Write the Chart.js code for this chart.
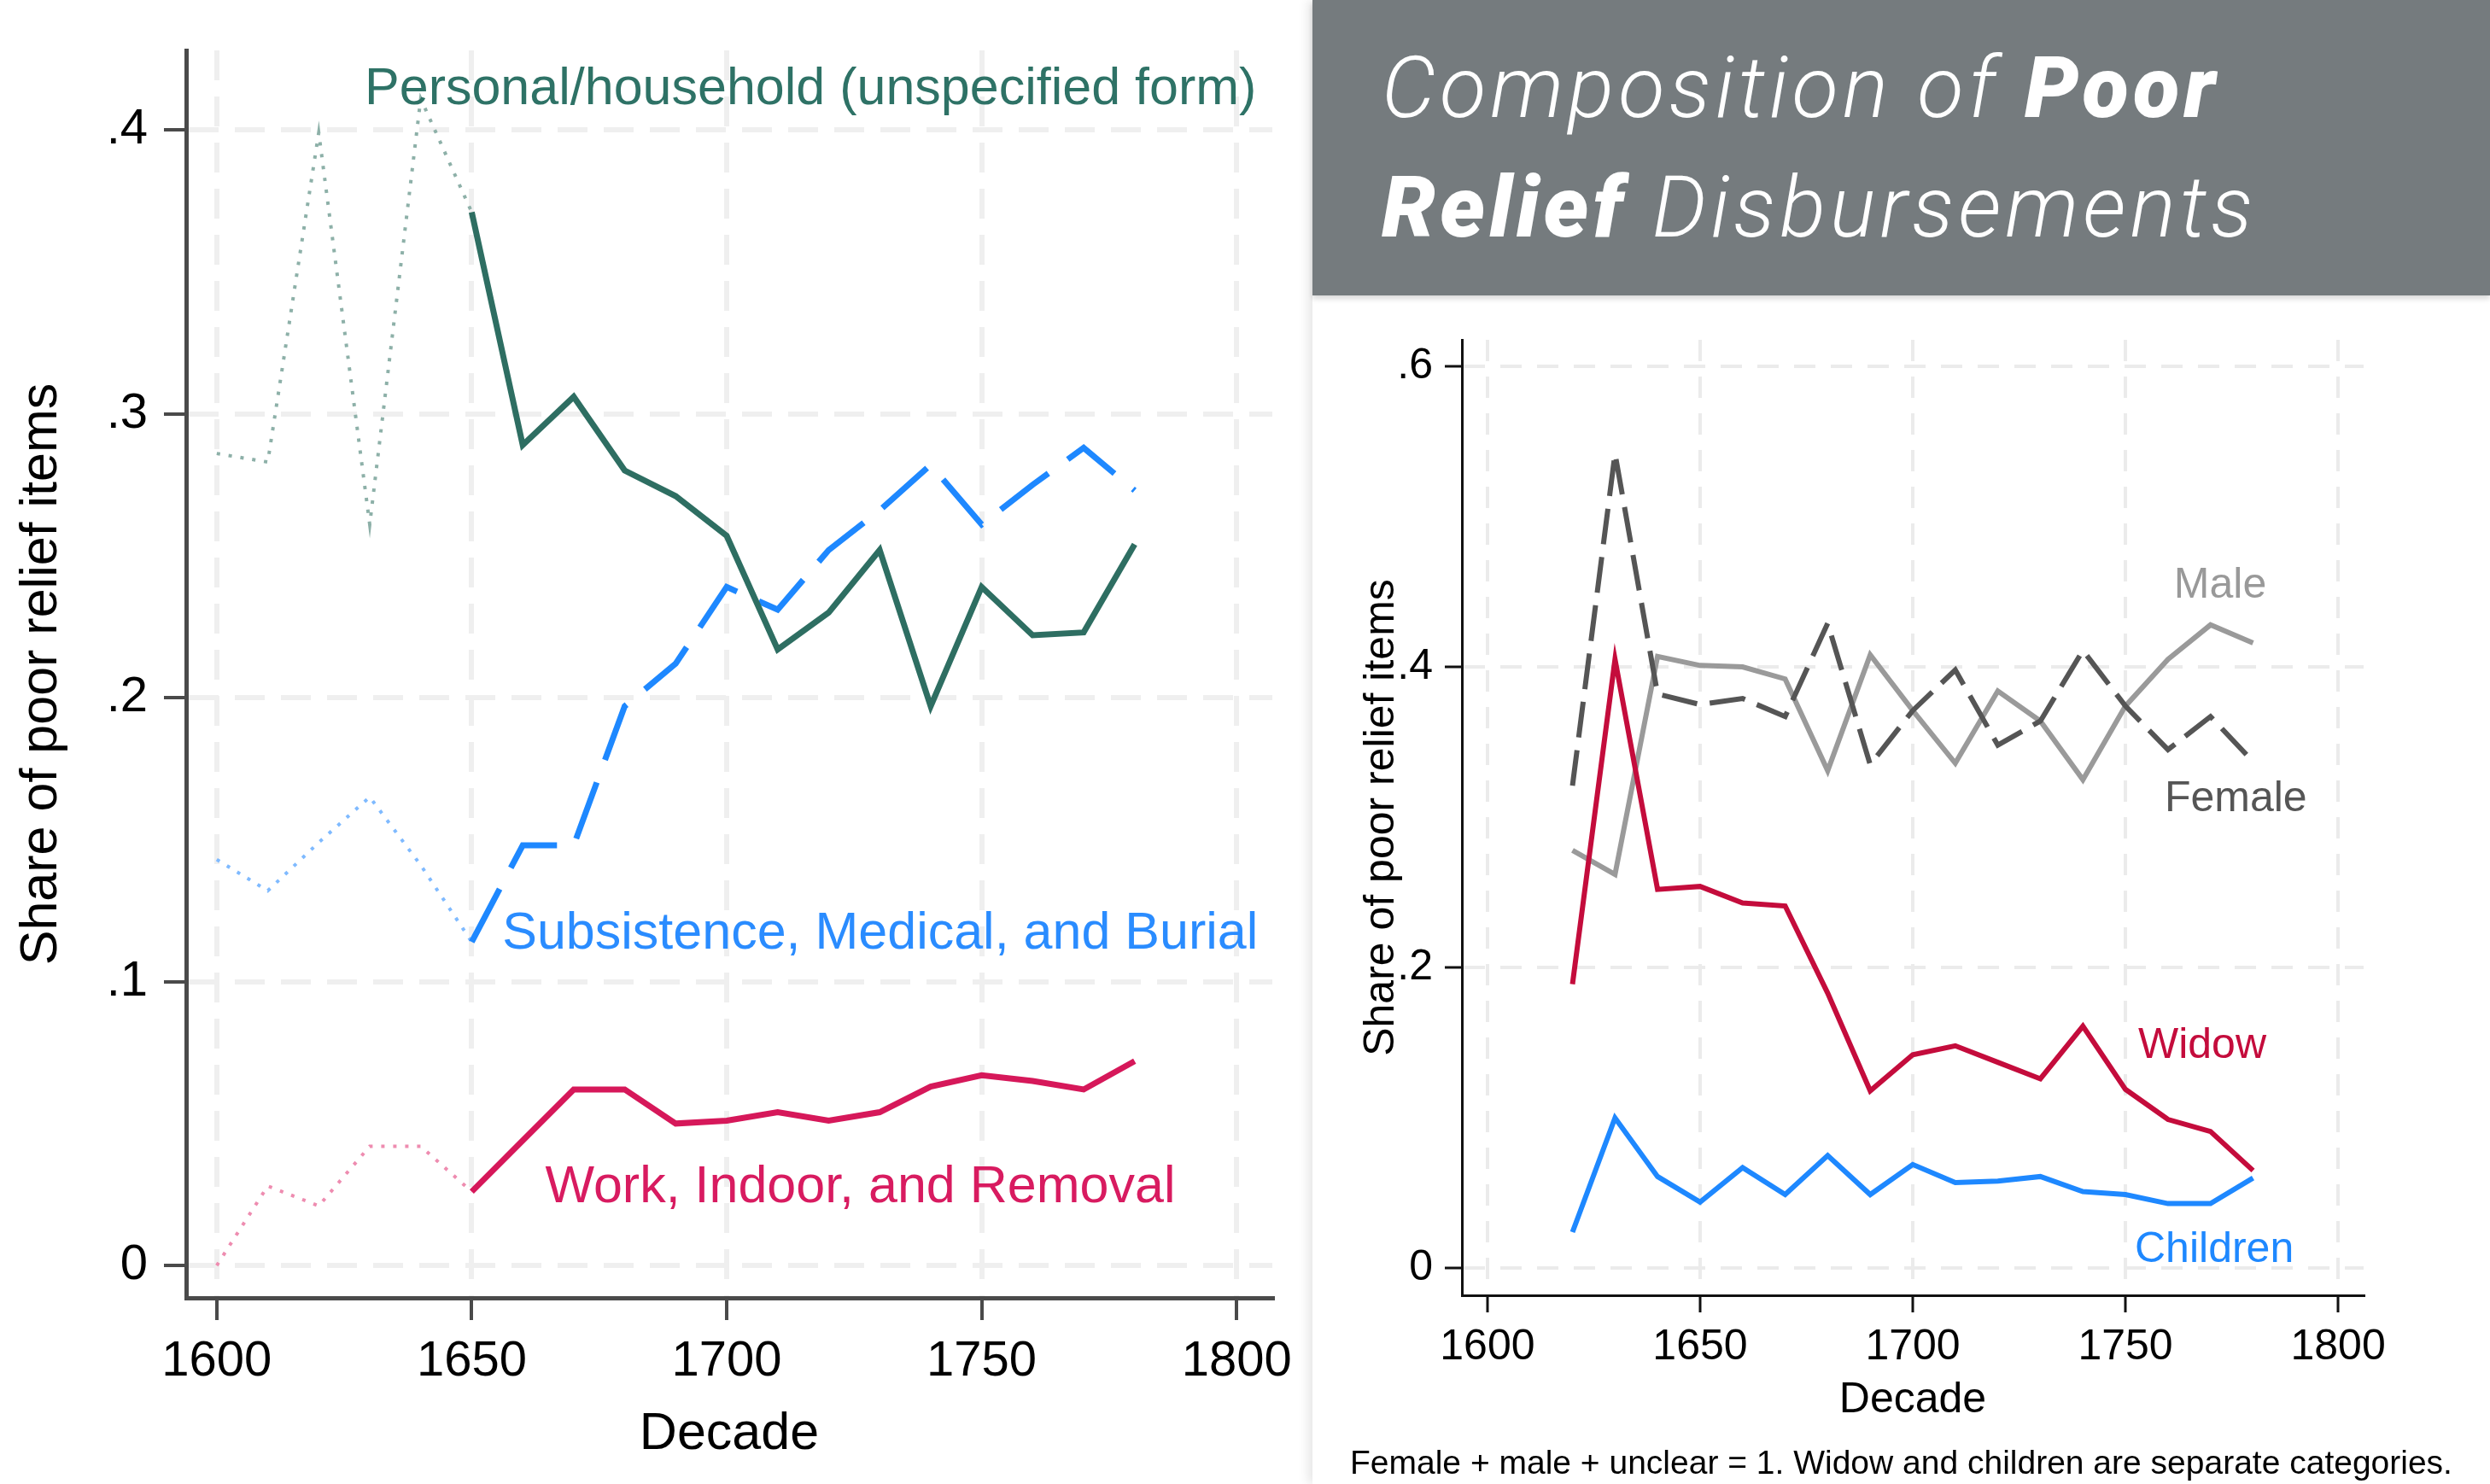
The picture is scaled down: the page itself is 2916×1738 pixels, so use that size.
<!DOCTYPE html>
<html>
<head>
<meta charset="utf-8">
<title>Composition of Poor Relief Disbursements</title>
<script src="https://cdn.jsdelivr.net/npm/chart.js@4.4.1/dist/chart.umd.min.js"></script>
<style>
  html, body { margin: 0; padding: 0; background: #fff; }
  body { width: 2916px; height: 1738px; position: relative; overflow: hidden; font-family: "Liberation Sans", Arial, sans-serif; }
  #leftChart { position: absolute; left: 0; top: 0; }
  #card { position: absolute; left: 1537px; top: 0; width: 1379px; height: 1738px; background: #fff; box-shadow: -5px 0 12px rgba(0,0,0,0.10); }
  #titleBox { position: absolute; left: 0; top: 0; width: 1379px; height: 346px; background: #757b7e; box-shadow: 0 4px 6px rgba(0,0,0,0.15); }
  #title { position: absolute; left: 81px; top: 33px; color: #fff; font-family: Roboto, sans-serif; font-style: italic; font-weight: 300; font-size: 100px; line-height: 140px; letter-spacing: 5px; white-space: nowrap; }
  #title b { font-weight: 900; }
  #rightChart { position: absolute; left: 3px; top: 350px; }
  #note { position: absolute; left: 0; top: 1691px; width: 1379px; text-align: center; font-size: 39px; line-height: 44px; color: #000; }
</style>
</head>
<body>
<canvas id="leftChart" width="1537" height="1738"></canvas>
<div id="card">
  <div id="titleBox">
    <div id="title">Composition of <b>Poor</b><br><b>Relief</b> Disbursements</div>
  </div>
  <canvas id="rightChart" width="1376" height="1388"></canvas>
  <div id="note">Female + male + unclear = 1. Widow and children are separate categories.</div>
</div>

<script>
// ---- left panel: type of relief ----
const leftDecades = [1600, 1610, 1620, 1630, 1640, 1650, 1660, 1670, 1680, 1690,
                     1700, 1710, 1720, 1730, 1740, 1750, 1760, 1770, 1780];
const personalShare = [0.286, 0.283, 0.399, 0.261, 0.411, 0.371, 0.289, 0.306, 0.280, 0.271,
                       0.257, 0.217, 0.230, 0.252, 0.197, 0.239, 0.222, 0.223, 0.254];
const subsistenceShare = [0.143, 0.132, 0.149, 0.165, 0.141, 0.114, 0.148, 0.148, 0.197, 0.212,
                          0.239, 0.231, 0.252, 0.266, 0.282, 0.261, 0.275, 0.288, 0.273];
const workShare = [0.000, 0.028, 0.021, 0.042, 0.042, 0.026, 0.044, 0.062, 0.062, 0.050,
                   0.051, 0.054, 0.051, 0.054, 0.063, 0.067, 0.065, 0.062, 0.072];
const sparseUntil = 1650;   // before this decade the series are drawn dotted
const leftXTicks = [1600, 1650, 1700, 1750, 1800];
const leftYTicks = [0, 0.1, 0.2, 0.3, 0.4];
const leftYLabels = ['0', '.1', '.2', '.3', '.4'];

// ---- right panel: recipients ----
const rightDecades = [1620, 1630, 1640, 1650, 1660, 1670, 1680, 1690, 1700,
                      1710, 1720, 1730, 1740, 1750, 1760, 1770, 1780];
const femaleShare = [0.321, 0.542, 0.382, 0.375, 0.379, 0.367, 0.429, 0.335, 0.371,
                     0.398, 0.348, 0.364, 0.411, 0.374, 0.345, 0.367, 0.337];
const maleShare = [0.278, 0.262, 0.407, 0.401, 0.400, 0.392, 0.331, 0.408, 0.371,
                   0.336, 0.384, 0.364, 0.325, 0.374, 0.405, 0.428, 0.416];
const widowShare = [0.189, 0.405, 0.252, 0.254, 0.243, 0.241, 0.183, 0.118, 0.142,
                    0.148, 0.137, 0.126, 0.161, 0.119, 0.099, 0.091, 0.065];
const childrenShare = [0.024, 0.100, 0.061, 0.044, 0.067, 0.049, 0.075, 0.049, 0.069,
                       0.057, 0.058, 0.061, 0.051, 0.049, 0.043, 0.043, 0.060];
const rightXTicks = [1600, 1650, 1700, 1750, 1800];
const rightYTicks = [0, 0.2, 0.4, 0.6];
const rightYLabels = ['0', '.2', '.4', '.6'];

const FONT = '"Liberation Sans", Arial, sans-serif';
Chart.defaults.font.family = FONT;
Chart.defaults.color = '#000';

function points(xs, ys, from, to) {
    const out = [];
    xs.forEach((x, i) => { if (x >= from && x <= to) out.push({ x: x, y: ys[i] }); });
    return out;
}

// text labels next to the lines, anchored in data units
const lineLabels = {
    id: 'lineLabels',
    afterDatasetsDraw(chart, args, opts) {
        const { ctx, scales } = chart;
        ctx.save();
        ctx.font = opts.font;
        ctx.textBaseline = 'middle';
        opts.items.forEach(it => {
            ctx.fillStyle = it.color;
            ctx.textAlign = it.align || 'left';
            ctx.fillText(it.text, scales.x.getPixelForValue(it.x), scales.y.getPixelForValue(it.y));
        });
        ctx.restore();
    }
};

function axes(cfg) {
    return {
        x: {
            type: 'linear', min: cfg.xMin, max: cfg.xMax,
            afterBuildTicks: s => { s.ticks = cfg.xTicks.map(v => ({ value: v })); },
            afterFit: s => { s.height = cfg.xHeight; },
            grid: { color: cfg.gridColor, lineWidth: cfg.gridWidth, tickLength: cfg.tickLen,
                    tickColor: cfg.axisColor, tickWidth: cfg.tickWidth, tickBorderDash: [] },
            border: { color: cfg.axisColor, width: cfg.axisWidth, dash: cfg.gridDash },
            ticks: { font: { size: cfg.tickSize, lineHeight: 1.2 }, padding: cfg.xPad, color: '#000',
                     maxRotation: 0, callback: v => String(v) },
            title: { display: true, text: 'Decade', font: { size: cfg.titleSize, lineHeight: 1.2 },
                     padding: { bottom: cfg.xTitlePad, top: 0 }, color: '#000' }
        },
        y: {
            type: 'linear', min: cfg.yMin, max: cfg.yMax,
            afterBuildTicks: s => { s.ticks = cfg.yTicks.map(v => ({ value: v })); },
            afterFit: s => { s.width = cfg.yWidth; },
            grid: { color: cfg.gridColor, lineWidth: cfg.gridWidth, tickLength: cfg.tickLen,
                    tickColor: cfg.axisColor, tickWidth: cfg.tickWidth, tickBorderDash: [] },
            border: { color: cfg.axisColor, width: cfg.axisWidth, dash: cfg.gridDash },
            ticks: { font: { size: cfg.tickSize, lineHeight: 1.2 }, padding: cfg.yPad, color: '#000',
                     callback: v => cfg.yLabels[cfg.yTicks.findIndex(t => Math.abs(t - v) < 1e-9)] },
            title: { display: true, text: 'Share of poor relief items', font: { size: cfg.titleSize, lineHeight: 1.2 },
                     padding: { top: cfg.yTitlePad, bottom: 0 }, color: '#000' }
        }
    };
}

const baseOpts = {
    responsive: false, animation: false, devicePixelRatio: 1,
    elements: { point: { radius: 0 }, line: { tension: 0, borderCapStyle: 'butt', borderJoinStyle: 'miter' } }
};

// left chart
const teal = '#2e6e62', blue = '#1e88ff', crimson = '#d6185a';
const dots = [4, 10];
new Chart(document.getElementById('leftChart'), {
    type: 'line',
    data: {
        datasets: [
            { data: points(leftDecades, personalShare, sparseUntil, 9999), borderColor: teal, borderWidth: 7 },
            { data: points(leftDecades, subsistenceShare, sparseUntil, 9999), borderColor: blue, borderWidth: 7, borderDash: [70, 28] },
            { data: points(leftDecades, workShare, sparseUntil, 9999), borderColor: crimson, borderWidth: 7 },
            { data: points(leftDecades, personalShare, 0, sparseUntil), borderColor: '#8db0a8', borderWidth: 4, borderDash: dots },
            { data: points(leftDecades, subsistenceShare, 0, sparseUntil), borderColor: '#7fbaff', borderWidth: 4, borderDash: dots },
            { data: points(leftDecades, workShare, 0, sparseUntil), borderColor: '#ee8cb0', borderWidth: 4, borderDash: dots }
        ]
    },
    options: Object.assign({}, baseOpts, {
        layout: { padding: { top: 59, right: 47, bottom: 0, left: 0 } },
        scales: axes({
            xMin: 1594, xMax: 1807, xTicks: leftXTicks, xHeight: 218, xPad: 14, xTitlePad: 21,
            yMin: -0.0114, yMax: 0.428, yTicks: leftYTicks, yLabels: leftYLabels, yWidth: 218, yPad: 19, yTitlePad: 13,
            gridColor: '#efefef', gridWidth: 6, gridDash: [35, 19], tickLen: 26, tickWidth: 4,
            axisColor: '#4a4a4a', axisWidth: 5, tickSize: 58, titleSize: 61
        }),
        plugins: {
            legend: { display: false }, tooltip: { enabled: false },
            lineLabels: {
                font: '61px ' + FONT,
                items: [
                    { text: 'Personal/household (unspecified form)', x: 1629, y: 0.414, color: '#2e7266' },
                    { text: 'Subsistence, Medical, and Burial', x: 1656, y: 0.1167, color: '#2a8cff' },
                    { text: 'Work, Indoor, and Removal', x: 1664.4, y: 0.0274, color: '#d81b60' }
                ]
            }
        }
    }),
    plugins: [lineLabels]
});

// right chart
const widowRed = '#c40c3c';
new Chart(document.getElementById('rightChart'), {
    type: 'line',
    data: {
        datasets: [
            { data: points(rightDecades, childrenShare, 0, 9999), borderColor: blue, borderWidth: 6 },
            { data: points(rightDecades, widowShare, 0, 9999), borderColor: widowRed, borderWidth: 6 },
            { data: points(rightDecades, femaleShare, 0, 9999), borderColor: '#555555', borderWidth: 6, borderDash: [42, 15] },
            { data: points(rightDecades, maleShare, 0, 9999), borderColor: '#9a9a9a', borderWidth: 6 }
        ]
    },
    options: Object.assign({}, baseOpts, {
        layout: { padding: { top: 48, right: 148, bottom: 0, left: 0 } },
        scales: axes({
            xMin: 1594, xMax: 1806, xTicks: rightXTicks, xHeight: 221, xPad: 11, xTitlePad: 68,
            yMin: -0.018, yMax: 0.6176, yTicks: rightYTicks, yLabels: rightYLabels, yWidth: 172, yPad: 14, yTitlePad: 48,
            gridColor: '#ebebeb', gridWidth: 4, gridDash: [25, 18], tickLen: 20, tickWidth: 3,
            axisColor: '#111', axisWidth: 3, tickSize: 50, titleSize: 50
        }),
        plugins: {
            legend: { display: false }, tooltip: { enabled: false },
            lineLabels: {
                font: '50px ' + FONT,
                items: [
                    { text: 'Male', x: 1761.4, y: 0.454, color: '#999999' },
                    { text: 'Female', x: 1759.2, y: 0.312, color: '#555555' },
                    { text: 'Widow', x: 1753, y: 0.148, color: widowRed },
                    { text: 'Children', x: 1752.2, y: 0.012, color: blue }
                ]
            }
        }
    }),
    plugins: [lineLabels]
});
</script>
</body>
</html>
